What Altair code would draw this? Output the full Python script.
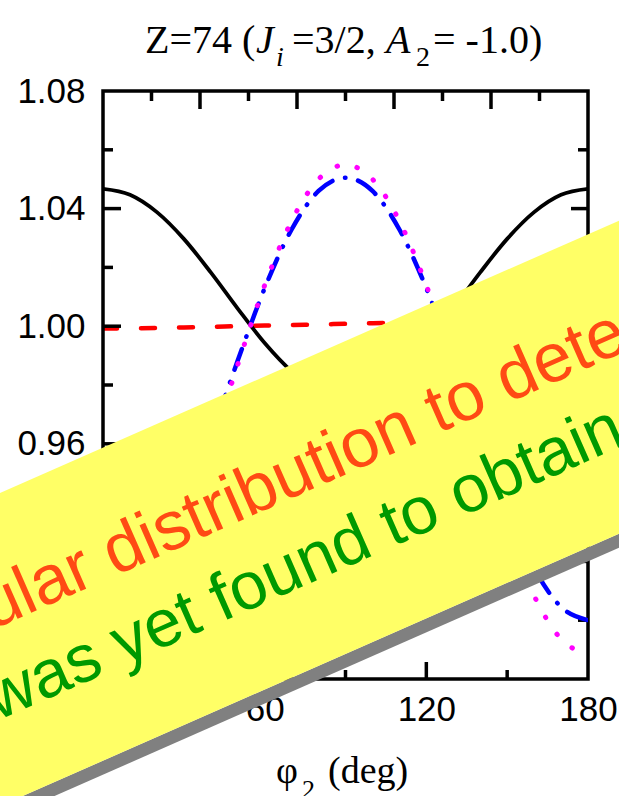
import math
import altair as alt
import pandas as pd

# ---- data: ratio curves vs. phi_2 (deg) ----
phi = [0, 10, 20, 30, 40, 50, 60, 70, 80, 90, 100, 110, 120, 130, 140, 150, 160, 170, 180]
black_solid = [1.0467, 1.0447, 1.0388, 1.0297, 1.0183, 1.0060, 0.9943, 0.9847, 0.9783, 0.9761,
               0.9783, 0.9847, 0.9943, 1.0060, 1.0183, 1.0297, 1.0388, 1.0447, 1.0467]
red_dash = [0.9992, 0.9993, 0.9994, 0.9996, 0.9998, 1.0000, 1.0002, 1.0004, 1.0006, 1.0008,
            1.0010, 1.0011, 1.0012, 1.0013, 1.0014, 1.0014, 1.0015, 1.0015, 1.0015]
blue_dashdot = [0.9000, 0.9045, 0.9176, 0.9376, 0.9622, 0.9883, 1.0129, 1.0329, 1.0460, 1.0505,
                1.0460, 1.0329, 1.0129, 0.9883, 0.9622, 0.9376, 0.9176, 0.9045, 0.9000]
magenta_dot = [0.8885, 0.8936, 0.9083, 0.9307, 0.9580, 0.9869, 1.0139, 1.0358, 1.0500, 1.0549,
               1.0500, 1.0358, 1.0139, 0.9869, 0.9580, 0.9307, 0.9083, 0.8936, 0.8885]

# axis ticks and labels
x_labels = [0, 60, 120, 180]
x_major_bottom = [60, 120]
x_minor_bottom = [30, 90, 150]
x_major_top = [36, 72, 108, 144]
x_minor_top = [18, 54, 90, 126, 162]
y_labels = [0.88, 0.92, 0.96, 1.00, 1.04, 1.08]
y_major = [0.92, 0.96, 1.00, 1.04]
y_minor = [0.90, 0.94, 0.98, 1.02, 1.06]

banner_line1 = "ular distribution to dete"
banner_line2 = "was yet found to obtain"

# ---- layout (pixels) ----
W, H = 485, 588
PL, PT = 103, 91
PR, PB = 619 - PL - W, 796 - PT - H
LW = 3.5


def px(x):
    return x - PL


def py(y):
    return y - PT


xs = alt.Scale(domain=[0, 180], nice=False, zero=False)
ys = alt.Scale(domain=[0.88, 1.08], nice=False, zero=False)
x_axis = alt.Axis(values=x_labels, title=None, ticks=False, tickSize=0, domain=False,
                  grid=False, labelFont="Liberation Sans", labelFontSize=35,
                  labelColor="black", labelPadding=13, labelFlush=False)
y_axis = alt.Axis(values=y_labels, format=".2f", title=None, ticks=False, tickSize=0,
                  domain=False, grid=False, labelFont="Liberation Sans",
                  labelFontSize=35, labelColor="black", labelPadding=18, labelFlush=False)

curves = pd.DataFrame({"phi": phi, "black": black_solid, "red": red_dash,
                       "blue": blue_dashdot, "magenta": magenta_dot})
one = pd.DataFrame({"a": [0]})


def curve(col, color, dash=None, width=4.5):
    kw = dict(color=color, strokeWidth=width, interpolate="monotone", clip=True)
    if dash is not None:
        kw["strokeDash"] = dash
        kw["strokeCap"] = "round"
    return alt.Chart(curves).mark_line(**kw).encode(
        x=alt.X("phi:Q", scale=xs, axis=x_axis),
        y=alt.Y(f"{col}:Q", scale=ys, axis=y_axis),
    )


frame = alt.Chart(one).mark_rect(fill="transparent", stroke="black", strokeWidth=LW).encode(
    x=alt.value(0), x2=alt.value(W), y=alt.value(0), y2=alt.value(H))


def xticks(vals, top, length):
    y0, y1 = (0, length) if top else (H, H - length)
    return alt.Chart(pd.DataFrame({"v": vals})).mark_rule(color="black", strokeWidth=LW).encode(
        x=alt.X("v:Q", scale=xs, axis=x_axis), y=alt.value(y0), y2=alt.value(y1))


def yticks(vals, right, length):
    x0, x1 = (W, W - length) if right else (0, length)
    return alt.Chart(pd.DataFrame({"v": vals})).mark_rule(color="black", strokeWidth=LW).encode(
        y=alt.Y("v:Q", scale=ys, axis=y_axis), x=alt.value(x0), x2=alt.value(x1))


ticks = [
    xticks(x_major_bottom, False, 17), xticks(x_minor_bottom, False, 9),
    xticks(x_major_top, True, 18), xticks(x_minor_top, True, 10),
    yticks(y_major, False, 18), yticks(y_minor, False, 10),
    yticks(y_major, True, 17), yticks(y_minor, True, 10),
]

plot = alt.layer(
    curve("red", "#ff0000", [14, 24]),
    frame, *ticks,
    curve("black", "#000000", None, 3.8),
    curve("blue", "#0000ff", [22, 13, 0.5, 13]),
    curve("magenta", "#ff00ff", [0.5, 20], 5),
)


def label(text, x, y, size, italic=False, font="Liberation Serif"):
    kw = dict(text=text, font=font, fontSize=size, align="left", baseline="alphabetic",
              color="black")
    if italic:
        kw["fontStyle"] = "italic"
    return alt.Chart(one).mark_text(**kw).encode(x=alt.value(px(x)), y=alt.value(py(y)))


title = [
    label("Z=74 (", 145, 53, 40),
    label("J", 256, 53, 40, italic=True),
    label("i", 276, 66, 28, italic=True),
    label("=3/2,", 292, 53, 40),
    label("A", 386, 53, 40, italic=True),
    label("2", 416, 66, 28),
    label("= -1.0)", 433, 53, 40),
    label("φ", 276, 783, 38),
    label("2", 302, 798, 26),
    label("(deg)", 328, 783, 38),
]

# ---- slanted banner across the lower left ----
slope = 0.44
angle = math.degrees(math.atan(slope))
ax, ay = 450, 295          # a point on the banner's upper edge
thick = 313                # vertical extent of the banner
shadow = 14
edge_x = [-20, 640]
top_edge = [ay - slope * (x - ax) for x in edge_x]
band = pd.DataFrame({
    "x": [px(x) for x in edge_x],
    "top": [py(y) for y in top_edge],
    "bottom": [py(y + thick) for y in top_edge],
    "shadow": [py(y + thick + shadow) for y in top_edge],
})

shadow_band = alt.Chart(band).mark_area(color="#808080").encode(
    x=alt.X("x:Q", scale=None), y=alt.Y("bottom:Q", scale=None), y2="shadow:Q")
yellow_band = alt.Chart(band).mark_area(color="#ffff66").encode(
    x=alt.X("x:Q", scale=None), y=alt.Y("top:Q", scale=None), y2="bottom:Q")


def banner_text(text, x, y, color, size):
    return alt.Chart(one).mark_text(
        text=text, font="Liberation Sans", fontSize=size, color=color, align="left",
        baseline="alphabetic", angle=360 - angle,
    ).encode(x=alt.value(px(x)), y=alt.value(py(y)))


banner = alt.layer(
    shadow_band, yellow_band,
    banner_text(banner_line1, -8, 630, "#ff4a14", 69),
    banner_text(banner_line2, -3, 721, "#009900", 67),
)

chart = alt.layer(plot, *title, banner).resolve_scale(
    x="independent", y="independent"
).properties(
    width=W, height=H,
    autosize=alt.AutoSizeParams(type="none"),
    padding={"left": PL, "top": PT, "right": PR, "bottom": PB},
    background="white",
).configure_view(stroke="transparent")

chart.save("out.html", embed_options={"renderer": "svg", "actions": False})
